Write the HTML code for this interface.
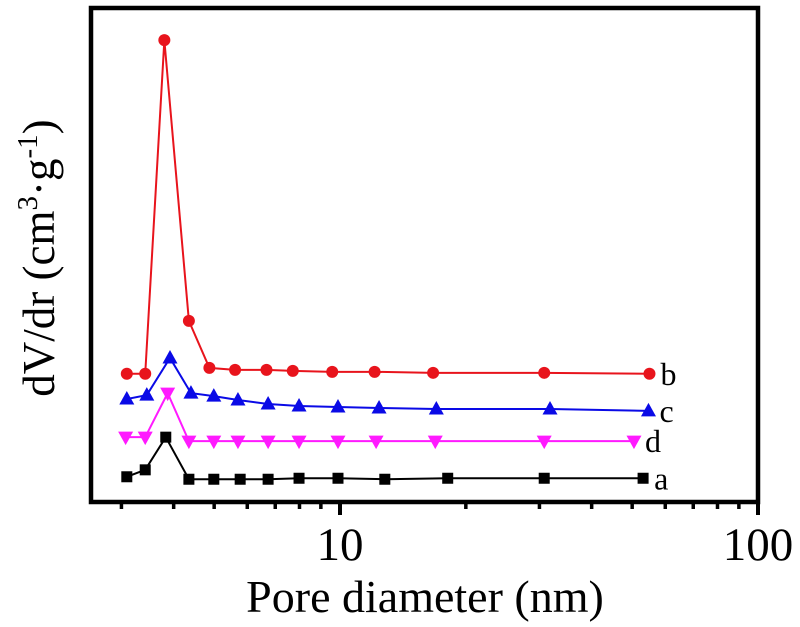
<!DOCTYPE html>
<html><head><meta charset="utf-8"><style>
html,body{margin:0;padding:0;background:#fff;}
svg{display:block;font-family:"Liberation Serif",serif;}
</style></head><body>
<svg id="chart" width="800" height="627" viewBox="0 0 800 627" xmlns="http://www.w3.org/2000/svg">
<g id="marks"></g>
<rect x="91" y="8" width="667" height="494" fill="none" stroke="#000" stroke-width="4.5"/>
<g id="ticks"></g>
<text x="425" y="612" font-size="46" text-anchor="middle">Pore diameter (nm)</text>
<text transform="translate(54,258) rotate(-90)" font-size="45" text-anchor="middle">dV/dr (cm<tspan dy="-17" font-size="29">3</tspan><tspan dy="17">·g</tspan><tspan dy="-17" font-size="29">-1</tspan><tspan dy="17">)</tspan></text>
</svg>
<script>
const xA=[3.09,3.42,3.83,4.35,4.99,5.77,6.73,7.98,9.89,12.8,18.1,30.8,53.1];
const yA=[5.3,6.7,13.3,4.8,4.8,4.8,4.8,5.0,5.0,4.8,5.0,5.0,5.0];
const xB=[3.09,3.42,3.80,4.35,4.87,5.61,6.67,7.71,9.58,12.1,16.7,30.8,55.0];
const yB=[26.1,26.1,93.5,36.8,27.3,26.9,26.9,26.7,26.5,26.5,26.3,26.3,26.1];
const xC=[3.09,3.45,3.92,4.40,4.99,5.70,6.73,7.98,9.89,12.4,17.0,31.8,54.7];
const yC=[21.0,21.8,29.3,22.2,21.6,20.8,20.0,19.6,19.4,19.2,19.0,19.0,18.6];
const xD=[3.07,3.42,3.87,4.35,4.99,5.70,6.73,7.98,9.89,12.2,16.9,30.8,50.5];
const yD=[13.3,13.3,22.2,12.5,12.5,12.5,12.5,12.5,12.5,12.5,12.5,12.5,12.5];
const seriesNames=["a","b","c","d"];
const xTickMajor=[10,100];
const xTickMinor=[3,4,5,6,7,8,9,20,30,40,50,60,70,80,90];
const NS="http://www.w3.org/2000/svg";
function xs(v){return 340+(Math.log10(v)-1)*418;}
function ys(v){return 503-v*4.95;}
function mk(t,a,p){const e=document.createElementNS(NS,t);for(const k in a)e.setAttribute(k,a[k]);p.appendChild(e);return e;}
const marks=document.getElementById('marks');
const ticks=document.getElementById('ticks');
const defs=[[xA,yA,"#000","square","a"],[xB,yB,"#e8141c","circle","b"],[xC,yC,"#0a0ae6","up","c"],[xD,yD,"#ff1aff","down","d"]];
defs.forEach(([X,Y,col,shape,name])=>{
  const g=mk('g',{},marks);
  
  
  const pts=X.map((x,i)=>xs(x)+','+ys(Y[i])).join(' ');
  const pl=mk('polyline',{points:pts,fill:'none',stroke:col,'stroke-width':2},g);
  
  
  X.forEach((x,i)=>{
    const cx=xs(x),cy=ys(Y[i]);let m;
    if(shape=="square")m=mk('rect',{x:cx-5.5,y:cy-5.5,width:11,height:11,fill:col},g);
    else if(shape=="circle")m=mk('circle',{cx:cx,cy:cy,r:6,fill:col},g);
    else if(shape=="up")m=mk('polygon',{points:`${cx},${cy-8} ${cx-7.5},${cy+5.5} ${cx+7.5},${cy+5.5}`,fill:col},g);
    else m=mk('polygon',{points:`${cx},${cy+8} ${cx-7.5},${cy-5.5} ${cx+7.5},${cy-5.5}`,fill:col},g);
    
    
  });
  const last=X.length-1;
  const t=mk('text',{x:xs(X[last])+11,y:ys(Y[last])+11,'font-size':32},g);
  t.textContent=name;
  
  
});
xTickMajor.forEach(v=>{
  const l=mk('line',{x1:xs(v),x2:xs(v),y1:502,y2:515,stroke:'#000','stroke-width':4},ticks);
  
  
  const t=mk('text',{x:xs(v),y:560,'font-size':47,'text-anchor':'middle'},ticks);
  t.textContent=String(v);
  
  
});
xTickMinor.forEach(v=>{
  const l=mk('line',{x1:xs(v),x2:xs(v),y1:502,y2:509,stroke:'#000','stroke-width':3.5},ticks);
  
  
});
</script>
</body></html>
